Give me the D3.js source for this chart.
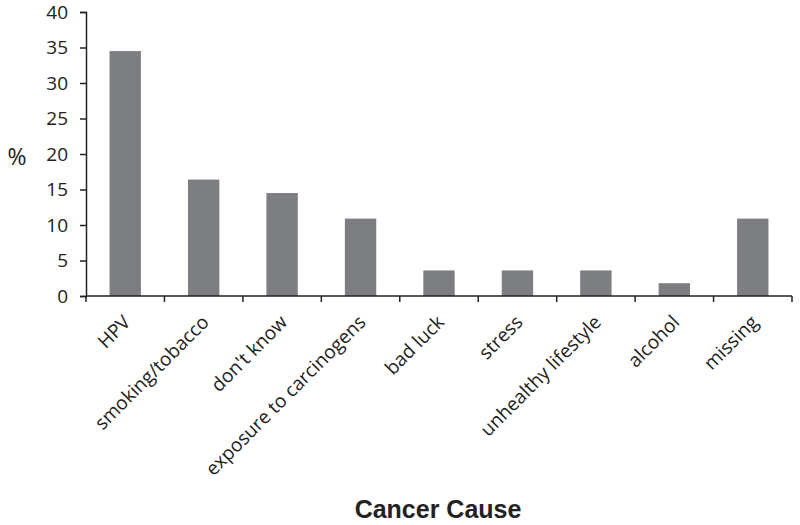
<!DOCTYPE html>
<html><head><meta charset="utf-8">
<script src="https://cdn.jsdelivr.net/npm/d3@7"></script>
<style>body{margin:0;background:#fff}</style>
</head><body>
<svg id="c" width="800" height="525"></svg>
<script>
const categories = ["HPV","smoking/tobacco","don't know","exposure to carcinogens","bad luck","stress","unhealthy lifestyle","alcohol","missing"];
const values = [34.5,16.4,14.5,10.9,3.6,3.6,3.6,1.8,10.9];
const yTicks = [0,5,10,15,20,25,30,35,40];

const svg = d3.select("#c");
const m = {left:86, right:8, top:12, bottom:229};
const x = d3.scaleBand().domain(categories).range([m.left, 792]).paddingInner(0.6).paddingOuter(0.3);
const y = d3.scaleLinear().domain([0,40]).range([296, 12]);
const font = "'Open Sans', sans-serif";

svg.append("g").selectAll("rect").data(values).join("rect")
  .attr("x",(d,i)=>x(categories[i]))
  .attr("width",x.bandwidth())
  .attr("y",d=>y(d))
  .attr("height",d=>y(0)-y(d))
  .attr("fill","#7d7e82");

const yAxis = svg.append("g").attr("transform",`translate(${m.left},0)`)
  .call(d3.axisLeft(y).tickValues(yTicks).tickSize(6).tickPadding(12));
yAxis.selectAll("text").style("font-family",font).style("font-size","19px").attr("fill","#222");
yAxis.selectAll("line,path").attr("stroke","#222").attr("stroke-width",1.5);

const xb = d3.scalePoint().domain(d3.range(categories.length+1)).range([m.left,792]);
const xg = svg.append("g").attr("transform","translate(0,296)");
xg.append("line").attr("x1",m.left).attr("x2",792).attr("stroke","#222").attr("stroke-width",1.5);
xg.selectAll("line.t").data(d3.range(categories.length+1)).join("line").attr("class","t")
  .attr("x1",d=>xb(d)).attr("x2",d=>xb(d)).attr("y1",0).attr("y2",6)
  .attr("stroke","#222").attr("stroke-width",1.5);
xg.selectAll("text").data(categories).join("text")
  .attr("transform",d=>`translate(${x(d)+x.bandwidth()/2-3},${18}) rotate(-45)`)
  .attr("text-anchor","end").attr("dy","0.7em")
  .style("font-family",font).style("font-size","19px").attr("fill","#222")
  .text(d=>d);

svg.append("text").attr("x",17).attr("y",165).attr("text-anchor","middle")
  .style("font-family",font).style("font-size","23px").attr("fill","#222").text("%");
svg.append("text").attr("x",438).attr("y",518).attr("text-anchor","middle")
  .style("font-family","'Liberation Sans', Arial, sans-serif").style("font-size","25px").style("font-weight","bold").attr("fill","#222").text("Cancer Cause");
</script>
</body></html>
